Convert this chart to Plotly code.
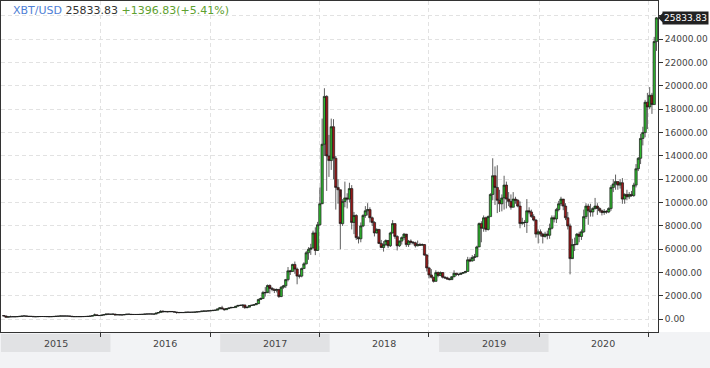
import plotly.graph_objects as go
import pandas as pd

# ---------------- data (weekly-ish candles, 48 per year) ----------------
years = [2015, 2016, 2017, 2018, 2019, 2020]

close_2015 = [290, 180, 215, 218, 225, 220, 235, 255, 275, 290, 260, 245, 250, 225, 222, 235,
              238, 240, 236, 232, 225, 232, 245, 262, 268, 290, 276, 282, 278, 265, 230, 228,
              232, 230, 232, 237, 244, 254, 270, 315, 380, 330, 322, 360, 395, 450, 440, 430]
high_2015 = [320, 295, 225, 310, 240, 245, 250, 260, 290, 300, 295, 265, 262, 255, 230, 240,
             245, 245, 244, 241, 232, 237, 252, 267, 275, 315, 295, 298, 285, 284, 268, 236,
             240, 242, 238, 242, 248, 258, 287, 334, 495, 400, 340, 380, 420, 470, 470, 450]
low_2015 = [265, 170, 175, 200, 212, 210, 215, 232, 250, 270, 250, 240, 240, 218, 215, 218,
            230, 233, 230, 225, 218, 222, 230, 240, 252, 265, 270, 270, 262, 258, 200, 210,
            225, 225, 226, 230, 236, 242, 250, 275, 310, 310, 312, 318, 355, 390, 425, 422]

close_2016 = [448, 375, 400, 376, 378, 405, 438, 435, 410, 415, 412, 415, 420, 425, 450, 455,
              460, 455, 445, 530, 580, 690, 650, 672, 640, 670, 655, 620, 590, 570, 585, 575,
              610, 608, 600, 610, 618, 640, 655, 700, 705, 705, 730, 740, 770, 782, 890, 985]
high_2016 = [460, 460, 415, 400, 385, 410, 445, 445, 440, 420, 422, 425, 425, 432, 460, 468,
             465, 464, 458, 540, 590, 780, 775, 705, 705, 680, 685, 665, 615, 600, 590, 590,
             615, 612, 612, 615, 622, 645, 660, 720, 745, 715, 750, 752, 775, 790, 900, 1010]
low_2016 = [425, 370, 375, 365, 365, 375, 400, 418, 400, 405, 405, 408, 414, 420, 424, 440,
            445, 440, 438, 440, 520, 575, 585, 600, 610, 625, 640, 600, 480, 560, 568, 565,
            570, 590, 595, 595, 605, 615, 630, 650, 680, 690, 700, 720, 740, 758, 780, 860]

close_2017 = [900, 825, 920, 970, 1020, 1005, 1120, 1190, 1180, 1230, 1000, 1040, 1180, 1210, 1250, 1340,
              1700, 1780, 2300, 2280, 2900, 2650, 2580, 2480, 2550, 1950, 2750, 2870, 3400, 4150, 4100, 4700,
              4300, 3700, 3700, 4350, 4750, 5700, 6000, 6100, 7400, 5900, 8100, 9900, 15000, 19100, 14000, 13600]
high_2017 = [1160, 910, 930, 975, 1030, 1020, 1125, 1210, 1290, 1240, 1250, 1060, 1190, 1225, 1260, 1360,
             1760, 1870, 2440, 2760, 2980, 2990, 2760, 2620, 2640, 2610, 2850, 2950, 3460, 4480, 4240, 4760,
             4950, 4430, 3860, 4430, 4890, 5850, 6180, 6470, 7600, 7880, 8350, 11300, 17200, 19800, 19200, 15800]
low_2017 = [880, 750, 810, 900, 960, 980, 1000, 1100, 1150, 990, 900, 940, 1040, 1170, 1180, 1240,
            1380, 1680, 1780, 1950, 2380, 2200, 2400, 2250, 2300, 1830, 1900, 2620, 2680, 3250, 3800, 4050,
            3900, 3000, 3500, 3600, 4350, 4710, 5100, 5520, 6100, 5500, 5850, 8000, 10000, 14000, 11000, 12200]

close_2018 = [16500, 13800, 11300, 11100, 8200, 10100, 10400, 10300, 11200, 8300, 8900, 7000,
              6900, 8000, 8900, 9300, 9400, 8700, 8300, 7400, 7700, 6500, 6150, 6400,
              6750, 6300, 7400, 8200, 7100, 6300, 6700, 7000, 7300, 6400, 6700, 6600,
              6550, 6300, 6400, 6350, 6400, 5500, 4400, 3800, 3600, 3250, 4000, 3750]
high_2018 = [17200, 17150, 14000, 12000, 10500, 10300, 11800, 10800, 11700, 11500, 9200, 9000,
             7100, 8300, 9000, 9700, 9950, 9600, 8800, 8400, 7800, 7750, 6800, 6700,
             6850, 6800, 7500, 8500, 8200, 7200, 6750, 7100, 7400, 7050, 6800, 6850,
             6700, 6650, 6750, 6550, 6500, 6450, 5600, 4500, 4300, 3650, 4200, 4100]
low_2018 = [12800, 12000, 9400, 9900, 6000, 8000, 9600, 9500, 10000, 7700, 7300, 6800,
            6500, 6600, 7900, 8700, 8900, 8300, 8000, 7100, 7350, 6450, 6100, 5800,
            6300, 6100, 6200, 7350, 6900, 5900, 6200, 6400, 6800, 6200, 6200, 6400,
            6400, 6150, 6250, 6300, 6300, 5450, 4100, 3500, 3500, 3150, 3250, 3600]

close_2019 = [4000, 3600, 3550, 3450, 3400, 3650, 3950, 3850, 3850, 3950, 4000, 4100,
              5100, 5000, 5300, 5350, 6200, 8200, 7800, 8700, 7700, 8800, 10700, 12300,
              11300, 10200, 9900, 10400, 11500, 10300, 10100, 9600, 10300, 10200, 9700, 8200,
              8300, 8300, 9300, 9200, 8800, 8500, 7300, 7500, 7300, 7100, 7300, 7200]
high_2019 = [4100, 4050, 3700, 3650, 3550, 3700, 4200, 3950, 3900, 4000, 4050, 4150,
             5350, 5300, 5500, 5600, 6300, 8300, 8400, 8900, 8800, 8900, 10800, 13800,
             13100, 13200, 11100, 10700, 12300, 11800, 10900, 10700, 10900, 10500, 10300, 10100,
             8700, 8500, 10300, 9600, 9400, 9000, 8600, 7700, 7700, 7400, 7500, 7600]
low_2019 = [3700, 3500, 3450, 3400, 3350, 3550, 3600, 3700, 3700, 3800, 3900, 3950,
            4100, 4900, 4950, 5000, 5400, 6200, 6600, 7500, 7500, 7600, 8800, 10200,
            9800, 9100, 9200, 9250, 9400, 9500, 9700, 9400, 9600, 9900, 9600, 7800,
            8100, 7900, 7400, 9000, 8700, 8400, 7000, 6500, 7100, 6500, 7000, 6850]

close_2020 = [7800, 8700, 8600, 9400, 9900, 10300, 9700, 8700, 8000, 5200, 6400, 6400,
              7300, 7100, 7500, 8800, 9700, 9300, 9200, 9500, 9700, 9500, 9300, 9150,
              9250, 9200, 9500, 11300, 11600, 11800, 11500, 11700, 10300, 10700, 10500, 10700,
              10600, 11500, 12900, 13800, 15500, 16000, 18600, 18200, 19200, 18400, 23800, 25833.83]
high_2020 = [8200, 8900, 8900, 9550, 10150, 10500, 10200, 9950, 9200, 8200, 6900, 7000,
             7400, 7500, 7700, 9400, 9950, 9900, 9900, 9600, 10400, 9950, 9600, 9400,
             9450, 9350, 9600, 11500, 12000, 12400, 11800, 12000, 12100, 10800, 11100, 10900,
             11000, 11700, 13300, 13900, 15900, 16500, 18800, 19400, 19900, 19400, 24200, 25900]
low_2020 = [6900, 7700, 8300, 8250, 9250, 9700, 9350, 8500, 7700, 3850, 5300, 5850,
            6500, 6600, 6800, 7400, 8600, 8100, 8800, 8800, 9400, 8950, 9150, 8900,
            8950, 9050, 9100, 9300, 10900, 11100, 11100, 11200, 9900, 9900, 10200, 10300,
            10500, 10500, 11300, 12700, 13300, 14900, 15600, 16300, 18000, 17600, 18400, 23000]

first_open = 320

symbol = "XBT/USD"
last_text = "25833.83"
change_text = "+1396.83(+5.41%)"
year_labels = ["2015", "2016", "2017", "2018", "2019", "2020"]
grid_dates = ["2015-11-30", "2016-11-28", "2017-11-28", "2018-11-26", "2019-12-01", "2020-11-28"]
y_ticks = [0, 2000, 4000, 6000, 8000, 10000, 12000, 14000, 16000, 18000, 20000, 22000, 24000, 26000]

# ---------------- assemble ----------------
closes = close_2015 + close_2016 + close_2017 + close_2018 + close_2019 + close_2020
highs = high_2015 + high_2016 + high_2017 + high_2018 + high_2019 + high_2020
lows = low_2015 + low_2016 + low_2017 + low_2018 + low_2019 + low_2020
opens = [first_open] + closes[:-1]
dates = pd.date_range("2015-01-10", "2020-12-26", periods=len(closes))

FONT = "DejaVu Sans"

fig = go.Figure()
fig.add_trace(go.Candlestick(
    x=dates, open=opens, high=highs, low=lows, close=closes,
    increasing=dict(line=dict(color="#1a1a1a", width=0.7), fillcolor="#2fb82f"),
    decreasing=dict(line=dict(color="#1a1a1a", width=0.7), fillcolor="#9a1818"),
    whiskerwidth=0, showlegend=False, hoverinfo="skip",
))

W_PLOT, H_PLOT = 657, 331

shapes = []
shapes.append(dict(type="rect", xref="paper", yref="paper", x0=-0.01, x1=1.1,
                   y0=-40 / H_PLOT, y1=0, fillcolor="#f2f3f5", line=dict(width=0), layer="below"))
for i, yr in enumerate(years):
    if i % 2 == 0:
        shapes.append(dict(type="rect", xref="x", yref="paper",
                           x0=f"{yr}-01-01", x1=f"{yr + 1}-01-01",
                           y0=-20 / H_PLOT, y1=-2 / H_PLOT,
                           fillcolor="#e1e2e4", line=dict(width=0), layer="below"))
shapes.append(dict(type="path", xref="paper", yref="y", xsizemode="pixel", ysizemode="pixel",
                   xanchor=1, yanchor=closes[-1], path="M 0 0 L 5 5 L 5 -5 Z",
                   fillcolor="#222222", line=dict(width=0)))

annotations = []
for yr, lab in zip(years, year_labels):
    annotations.append(dict(x=f"{yr}-07-02", xref="x", y=-11 / H_PLOT, yref="paper",
                            text=lab, showarrow=False, xanchor="center", yanchor="middle",
                            font=dict(family=FONT, size=9.5, color="#444444")))
annotations.append(dict(
    x=10 / W_PLOT, xref="paper", y=(332 - 11) / H_PLOT, yref="paper",
    xanchor="left", yanchor="middle", showarrow=False,
    text=(f'<span style="color:#4f7fd6">{symbol}</span> '
          f'<span style="color:#333333">{last_text}</span> '
          f'<span style="color:#5ea02f">{change_text}</span>'),
    font=dict(family=FONT, size=11)))
annotations.append(dict(
    x=1, xref="paper", y=closes[-1], yref="y", xanchor="left", yanchor="middle",
    xshift=4, showarrow=False, text=last_text, bgcolor="#222222", borderpad=1,
    font=dict(family=FONT, size=9, color="#ffffff")))

fig.update_layout(
    width=710, height=368,
    margin=dict(l=1, r=52, t=1, b=36),
    paper_bgcolor="#ffffff", plot_bgcolor="#ffffff",
    boxgap=0, boxgroupgap=0,
    shapes=shapes, annotations=annotations,
    xaxis=dict(type="date", range=["2015-01-01", "2020-12-31"],
               rangeslider=dict(visible=False),
               showline=True, linecolor="#333333", linewidth=1, mirror=True,
               tickvals=grid_dates, showticklabels=False, ticks="outside", ticklen=4,
               tickcolor="#333333", showgrid=True, gridcolor="#e2e2e2", griddash="4px,3px",
               zeroline=False),
    yaxis=dict(side="right", range=[-1088, 27275],
               showline=True, linecolor="#333333", linewidth=1, mirror=True,
               tickvals=y_ticks,
               ticktext=[f"{v:.2f}" if v < 26000 else "" for v in y_ticks],
               ticks="outside", ticklen=4, tickcolor="#333333",
               tickfont=dict(family=FONT, size=9, color="#444444"),
               showgrid=True, gridcolor="#e2e2e2", griddash="4px,3px", zeroline=False),
)

fig.write_html("out.html", config={"displayModeBar": False},
               post_script="document.body.style.margin='0';")
